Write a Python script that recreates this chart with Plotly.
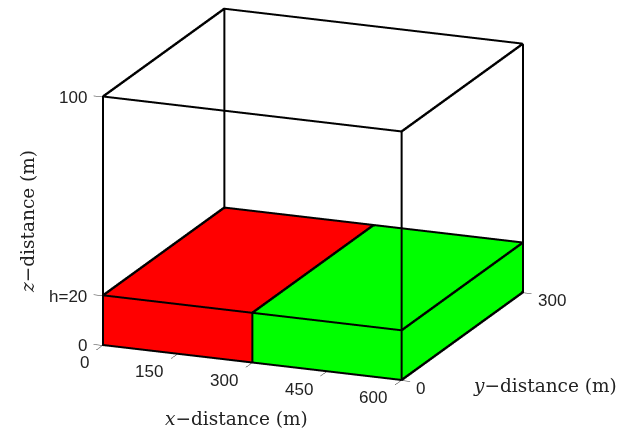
import math
import plotly.graph_objects as go

# Model domain (m)
x_span = [0, 600]
y_span = [0, 300]
z_span = [0, 100]
layer_top = 20

# Two layer blocks side by side along x
blocks = [
    {"x": [0, 300], "y": [0, 300], "z": [0, layer_top], "color": "#ff0000"},
    {"x": [300, 600], "y": [0, 300], "z": [0, layer_top], "color": "#00ff00"},
]

x_ticks = [0, 150, 300, 450, 600]
x_ticklabels = ["0", "150", "300", "450", "600"]
y_ticks = [0, 300]
y_ticklabels = ["0", "300"]
z_ticks = [0, 20, 100]
z_ticklabels = ["0", "h=20", "100"]

# tick mark lengths in data units (drawn along the neighbouring axis)
tick_len_x = 18
tick_len_y = 15
pad = 2

# plot box proportions (x : y : z) for the model domain
box_ratio = (1.0, 1.01, 0.807)
# viewing direction (orthographic camera); zoom sets the on-screen size
eye_dir = (0.3571, -0.8876, 0.2910)
zoom = 1.634
# screen pixels per box unit after zooming
px_per_box = 322.0

# data units -> box units
kx = box_ratio[0] / (x_span[1] - x_span[0])
ky = box_ratio[1] / (y_span[1] - y_span[0])
kz = box_ratio[2] / (z_span[1] - z_span[0])

en = math.sqrt(sum(c * c for c in eye_dir))
e = [c / en for c in eye_dir]
d = [-c for c in e]
rn = math.hypot(d[1], d[0])
right = (d[1] / rn, -d[0] / rn, 0.0)
upv = (right[1] * d[2] - right[2] * d[1],
       right[2] * d[0] - right[0] * d[2],
       right[0] * d[1] - right[1] * d[0])


def to_screen(dx, dy, dz):
    v = (dx * kx, dy * ky, dz * kz)
    return (px_per_box * sum(a * b for a, b in zip(v, right)),
            px_per_box * sum(a * b for a, b in zip(v, upv)))


# data-space shifts for one screen pixel right / up, and a small step towards the eye
ax_, ay_ = to_screen(1, 0, 0)
bx_, by_ = to_screen(0, 1, 0)
det = ax_ * by_ - bx_ * ay_
shift_right = (by_ / det, -ay_ / det, 0.0)
shift_up = (0.0, 0.0, 1.0 / to_screen(0, 0, 1)[1])
depth_step = 4.0 / px_per_box
toward_eye = (depth_step * e[0] / kx, depth_step * e[1] / ky, depth_step * e[2] / kz)


def cuboid_edges(xr, yr, zr):
    xs, ys, zs = [], [], []
    x0, x1 = xr
    y0, y1 = yr
    z0, z1 = zr
    corners = [(x0, y0), (x1, y0), (x1, y1), (x0, y1)]
    for z in (z0, z1):
        for cx, cy in corners + [corners[0]]:
            xs.append(cx); ys.append(cy); zs.append(z)
        xs.append(None); ys.append(None); zs.append(None)
    for cx, cy in corners:
        xs += [cx, cx, None]; ys += [cy, cy, None]; zs += [z0, z1, None]
    return xs, ys, zs


def thick_edges(xs, ys, zs):
    """Edges lifted towards the camera and doubled one pixel right and up."""
    ox, oy, oz = [], [], []
    for s in [(0.0, 0.0, 0.0), shift_right, shift_up]:
        for a, b, c in zip(xs, ys, zs):
            if a is None:
                ox.append(None); oy.append(None); oz.append(None)
            else:
                ox.append(a + s[0] + toward_eye[0])
                oy.append(b + s[1] + toward_eye[1])
                oz.append(c + s[2] + toward_eye[2])
        ox.append(None); oy.append(None); oz.append(None)
    return ox, oy, oz


def cuboid_mesh(xr, yr, zr, color):
    x0, x1 = xr
    y0, y1 = yr
    z0, z1 = zr
    vx = [x0, x1, x1, x0, x0, x1, x1, x0]
    vy = [y0, y0, y1, y1, y0, y0, y1, y1]
    vz = [z0, z0, z0, z0, z1, z1, z1, z1]
    i = [0, 0, 4, 4, 0, 0, 3, 3, 0, 0, 1, 1]
    j = [1, 2, 5, 6, 1, 5, 2, 6, 3, 7, 2, 6]
    k = [2, 3, 6, 7, 5, 4, 6, 7, 7, 4, 6, 5]
    return go.Mesh3d(
        x=vx, y=vy, z=vz, i=i, j=j, k=k,
        color=color, flatshading=True, hoverinfo="skip",
        lighting=dict(ambient=1, diffuse=0, specular=0, roughness=1, fresnel=0),
    )


fig = go.Figure()

for b in blocks:
    fig.add_trace(cuboid_mesh(b["x"], b["y"], b["z"], b["color"]))

line_style = dict(color="black", width=2)
for b in blocks:
    ex, ey, ez = thick_edges(*cuboid_edges(b["x"], b["y"], b["z"]))
    fig.add_trace(go.Scatter3d(x=ex, y=ey, z=ez, mode="lines", line=line_style, hoverinfo="skip"))

ex, ey, ez = thick_edges(*cuboid_edges(x_span, y_span, z_span))
fig.add_trace(go.Scatter3d(x=ex, y=ey, z=ez, mode="lines", line=line_style, hoverinfo="skip"))

# tick marks
tx, ty, tz = [], [], []
for v in z_ticks:
    tx += [x_span[0], x_span[0] - tick_len_x, None]
    ty += [y_span[0], y_span[0], None]
    tz += [v, v, None]
for v in x_ticks:
    tx += [v, v, None]
    ty += [y_span[0], y_span[0] - tick_len_y, None]
    tz += [z_span[0], z_span[0], None]
for v in y_ticks:
    tx += [x_span[1], x_span[1] + tick_len_x, None]
    ty += [v, v, None]
    tz += [z_span[0], z_span[0], None]
fig.add_trace(go.Scatter3d(x=tx, y=ty, z=tz, mode="lines",
                           line=dict(color="#333333", width=1), hoverinfo="skip"))

tick_font = dict(family="Liberation Sans, Arial, sans-serif", size=17, color="#222222")
title_font = dict(family="DejaVu Serif, Liberation Serif, serif", size=18.5, color="#222222")

annotations = []
for v, t in zip(z_ticks, z_ticklabels):
    annotations.append(dict(x=x_span[0], y=y_span[0], z=v, text=t, showarrow=False,
                            xanchor="right", yanchor="middle", xshift=-14, font=tick_font))
for v, t in zip(x_ticks, x_ticklabels):
    annotations.append(dict(x=v, y=y_span[0], z=z_span[0], text=t, showarrow=False,
                            xanchor="right", yanchor="middle", xshift=-12, yshift=-17,
                            font=tick_font))
for v, t in zip(y_ticks, y_ticklabels):
    annotations.append(dict(x=x_span[1], y=v, z=z_span[0], text=t, showarrow=False,
                            xanchor="left", yanchor="middle", xshift=13, yshift=-8,
                            font=tick_font))

annotations.append(dict(x=x_span[0], y=y_span[0], z=sum(z_span) / 2,
                        text="<i>z</i>−distance (m)", showarrow=False, textangle=-90,
                        xanchor="center", yanchor="middle", xshift=-75, font=title_font))
annotations.append(dict(x=sum(x_span) / 2, y=y_span[0], z=z_span[0],
                        text="<i>x</i>−distance (m)", showarrow=False,
                        xanchor="center", yanchor="middle", xshift=-15, yshift=-55,
                        font=title_font))
annotations.append(dict(x=x_span[1], y=sum(y_span) / 2, z=z_span[0],
                        text="<i>y</i>−distance (m)", showarrow=False,
                        xanchor="center", yanchor="middle", xshift=83, yshift=-49,
                        font=title_font))

xr = [x_span[0] - tick_len_x - pad, x_span[1] + tick_len_x + pad]
yr = [y_span[0] - tick_len_y - pad, y_span[1] + pad]
zr = [z_span[0] - pad, z_span[1] + pad]

aspect = dict(
    x=zoom * box_ratio[0] * (xr[1] - xr[0]) / (x_span[1] - x_span[0]),
    y=zoom * box_ratio[1] * (yr[1] - yr[0]) / (y_span[1] - y_span[0]),
    z=zoom * box_ratio[2] * (zr[1] - zr[0]) / (z_span[1] - z_span[0]),
)

hidden_axis = dict(visible=False, showbackground=False, showgrid=False,
                   zeroline=False, showspikes=False)

fig.update_layout(
    width=621, height=433,
    margin=dict(l=0, r=0, t=0, b=0),
    paper_bgcolor="white",
    showlegend=False,
    scene=dict(
        domain=dict(x=[0.0, 0.997], y=[0.0892, 1.0]),
        xaxis=dict(range=xr, **hidden_axis),
        yaxis=dict(range=yr, **hidden_axis),
        zaxis=dict(range=zr, **hidden_axis),
        aspectmode="manual",
        aspectratio=aspect,
        camera=dict(
            projection=dict(type="orthographic"),
            up=dict(x=0, y=0, z=1),
            center=dict(x=0, y=0, z=0),
            eye=dict(x=e[0] * 2.0, y=e[1] * 2.0, z=e[2] * 2.0),
        ),
        annotations=annotations,
        bgcolor="white",
    ),
)

fig.write_html("out.html")
